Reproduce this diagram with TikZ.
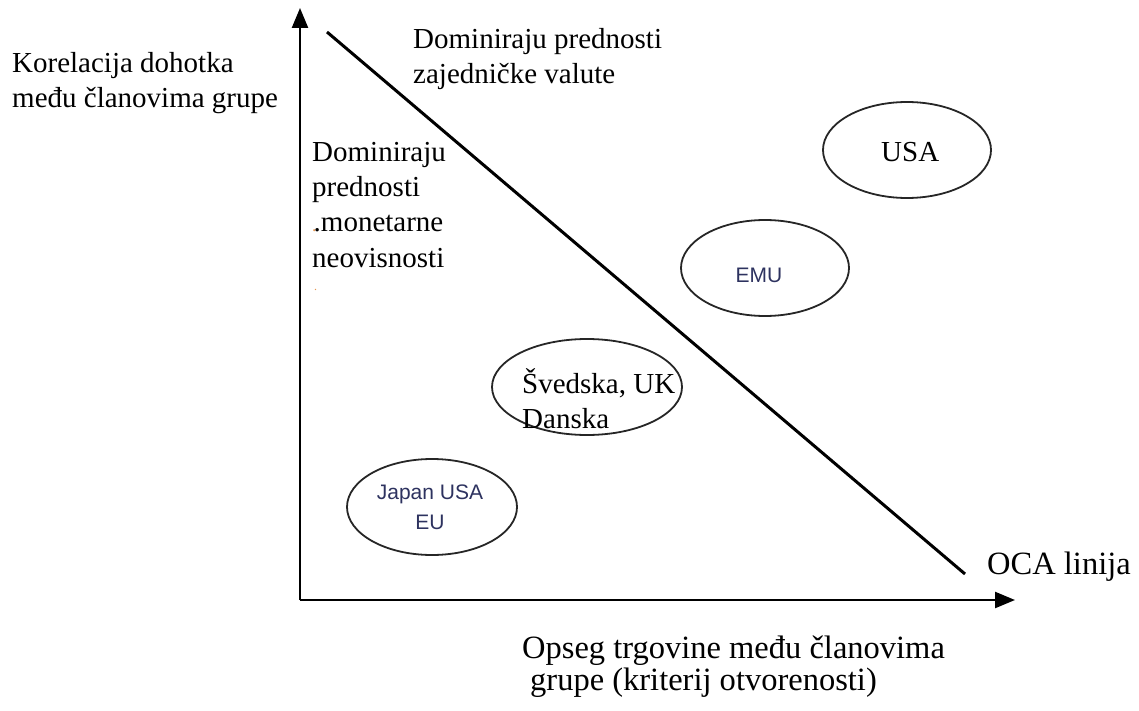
\documentclass[tikz,border=0pt]{standalone}
\usepackage{fontspec}
\setmainfont{Liberation Serif}
\newfontfamily\arialfont{Liberation Sans}
\usetikzlibrary{arrows.meta}
\definecolor{sanscol}{RGB}{45,50,95}
\definecolor{dotcol}{RGB}{230,150,80}
\tikzset{
  axis/.style={line width=2.4pt, -{Triangle[length=20pt,width=16pt]}},
  ocaline/.style={line width=3pt},
  oval/.style={draw=black!85, line width=1.8pt},
  lbl/.style={inner sep=0pt, align=left, anchor=base west, font=\fontsize{29}{35}\selectfont},
  biglbl/.style={inner sep=0pt, align=left, anchor=base west, font=\fontsize{32.5}{35}\selectfont},
  sanslbl/.style={inner sep=0pt, align=center, text=sanscol, font=\arialfont\fontsize{21}{30}\selectfont}
}
\begin{document}
\begin{tikzpicture}[x=1pt,y=-1pt]
\useasboundingbox (0,0) rectangle (1139,711);
% axes
\coordinate (O) at (300,600);
\coordinate (ytip) at (300,8);
\coordinate (xtip) at (1015,600);
\draw[axis] (O) -- (ytip);
\draw[axis] (O) -- (xtip);
% OCA line
\coordinate (ocaA) at (327,32);
\coordinate (ocaB) at (965,574);
\draw[ocaline] (ocaA) -- (ocaB);
% ellipses
\draw[oval] (907,150) ellipse [x radius=84, y radius=48];
\draw[oval] (765,268) ellipse [x radius=84, y radius=48];
\draw[oval] (587,387) ellipse [x radius=95, y radius=48];
\draw[oval] (432,507) ellipse [x radius=85, y radius=48];
% labels
\node[lbl] (ylab1) at (12,73) {Korelacija dohotka};
\node[lbl] (ylab2) at (12,108) {među članovima grupe};
\node[lbl] (top1) at (413,49) {Dominiraju prednosti};
\node[lbl] (top2) at (413,84) {zajedničke valute};
\node[lbl] (left1) at (312,162) {Dominiraju};
\node[lbl] (left2) at (312,197) {prednosti};
\node[lbl] (left3) at (312,232) {{\fontsize{18}{18}\selectfont\textcolor{dotcol}{.}}\kern-3pt.monetarne};
\node[lbl] (left4) at (312,267) {neovisnosti};
\node[lbl, text=dotcol, font=\fontsize{12}{12}\selectfont] (left5) at (314,290) {.};
\node[lbl] (usa) at (881,162) {USA};
\node[sanslbl] (emu) at (759,275) {EMU};
\node[lbl] (sv1) at (522,393) {Švedska, UK};
\node[lbl] (sv2) at (522,428) {Danska};
\node[sanslbl] (jap) at (430,507) {Japan USA\\EU};
\node[biglbl] (oca) at (987,574) {OCA linija};
\node[biglbl] (xl1) at (522,658) {Opseg trgovine među članovima};
\node[biglbl] (xl2) at (530,690) {grupe (kriterij otvorenosti)};
\end{tikzpicture}
\end{document}
